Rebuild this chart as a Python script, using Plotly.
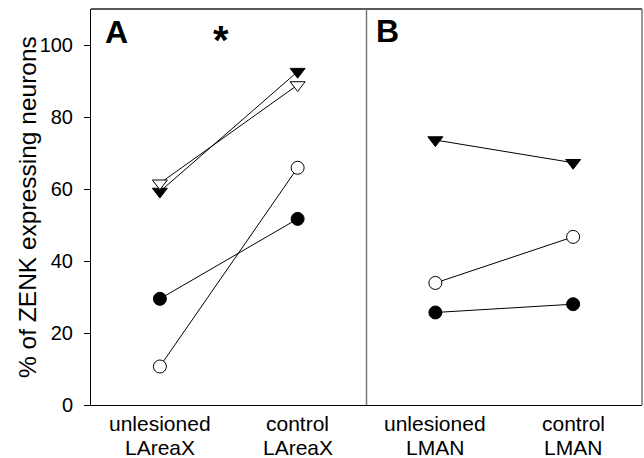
import plotly.graph_objects as go

# Categories within each panel
cats_a = ["unlesioned<br>LAreaX", "control<br>LAreaX"]
cats_b = ["unlesioned<br>LMAN", "control<br>LMAN"]
x_pos = [0, 1]

# Panel A (LAreaX) values, % of ZENK expressing neurons
a_tri_filled = [59.3, 92.6]
a_tri_open = [61.6, 88.9]
a_circ_open = [10.7, 65.9]
a_circ_filled = [29.5, 51.7]

# Panel B (LMAN) values
b_tri_filled = [73.6, 67.3]
b_circ_open = [33.9, 46.7]
b_circ_filled = [25.7, 28.0]

y_ticks = [0, 20, 40, 60, 80, 100]

FONT = "Liberation Sans, Arial, sans-serif"

fig = go.Figure()


def add_pair(xaxis, values, symbol, filled, size):
    fig.add_trace(go.Scatter(
        x=x_pos, y=values, xaxis=xaxis, yaxis="y",
        mode="lines+markers",
        line=dict(color="black", width=1),
        marker=dict(symbol=symbol, size=size,
                    color="black" if filled else "white",
                    line=dict(color="black", width=1)),
        showlegend=False, cliponaxis=False,
    ))


add_pair("x", a_tri_filled, "triangle-down", True, 13)
add_pair("x", a_tri_open, "triangle-down", False, 13)
add_pair("x", a_circ_open, "circle", False, 13)
add_pair("x", a_circ_filled, "circle", True, 13)

add_pair("x2", b_tri_filled, "triangle-down", True, 13)
add_pair("x2", b_circ_open, "circle", False, 13)
add_pair("x2", b_circ_filled, "circle", True, 13)

xcommon = dict(range=[-0.5, 1.5], showgrid=False, zeroline=False,
               showline=True, linecolor="black", linewidth=1,
               showticklabels=False, ticks="", fixedrange=True)

fig.update_layout(
    width=644, height=458,
    margin=dict(l=91, r=2, t=9, b=53),
    paper_bgcolor="white", plot_bgcolor="white",
    font=dict(family=FONT, color="black"),
    xaxis=dict(domain=[0, 0.5], anchor="y", **xcommon),
    xaxis2=dict(domain=[0.5, 1], anchor="y", **xcommon),
    yaxis=dict(range=[0, 110], tickvals=y_ticks, ticks="outside", ticklen=6,
               tickcolor="black", showgrid=False, zeroline=False,
               showline=True, linecolor="black", linewidth=1,
               tickfont=dict(size=20, family=FONT), ticklabelstandoff=7),
)

# Frame: top edge, right edge and the panel divider
fig.add_shape(type="line", xref="paper", yref="paper", x0=0, x1=1, y0=1, y1=1,
              line=dict(color="#222222", width=1.5))
fig.add_shape(type="line", xref="paper", yref="paper", x0=1, x1=1, y0=0, y1=1,
              line=dict(color="#777777", width=1.5))
fig.add_shape(type="line", xref="paper", yref="paper", x0=0.5, x1=0.5, y0=0, y1=1,
              line=dict(color="#777777", width=1.5))

# Two-line category labels below each panel (pixel rows converted to paper units)
PLOT_BOTTOM, PLOT_H = 404.7, 396.0
row1 = (PLOT_BOTTOM - 423.5) / PLOT_H
row2 = (PLOT_BOTTOM - 447.5) / PLOT_H
for xref, cats in (("x", cats_a), ("x2", cats_b)):
    for xv, label in zip(x_pos, cats):
        first, second = label.split("<br>")
        fig.add_annotation(x=xv, xref=xref, y=row1, yref="paper", text=first,
                           showarrow=False, xanchor="center", yanchor="middle",
                           borderpad=0, font=dict(size=21, family=FONT))
        fig.add_annotation(x=xv, xref=xref, y=row2, yref="paper", text=second,
                           showarrow=False, xanchor="center", yanchor="middle",
                           borderpad=0, font=dict(size=21, family=FONT))

# Y axis title
fig.add_annotation(x=-64 / 551, xref="paper", y=0.5, yref="paper",
                   text="% of ZENK expressing neurons", textangle=-90,
                   showarrow=False, xanchor="center", yanchor="middle",
                   font=dict(size=24.5, family=FONT))

# Panel letters and significance mark
fig.add_annotation(x=(116 - 91) / 551, xref="paper", y=(PLOT_BOTTOM - 32) / PLOT_H, yref="paper",
                   text="<b>A</b>", showarrow=False, xanchor="center", yanchor="middle",
                   font=dict(size=32, family=FONT))
fig.add_annotation(x=(387 - 91) / 551, xref="paper", y=(PLOT_BOTTOM - 30.5) / PLOT_H, yref="paper",
                   text="<b>B</b>", showarrow=False, xanchor="center", yanchor="middle",
                   font=dict(size=32, family=FONT))
fig.add_annotation(x=(221 - 91) / 551, xref="paper", y=(PLOT_BOTTOM - 40) / PLOT_H, yref="paper",
                   text="<b>*</b>", showarrow=False, xanchor="center", yanchor="middle",
                   font=dict(size=40, family=FONT))

fig.write_html("out.html")
